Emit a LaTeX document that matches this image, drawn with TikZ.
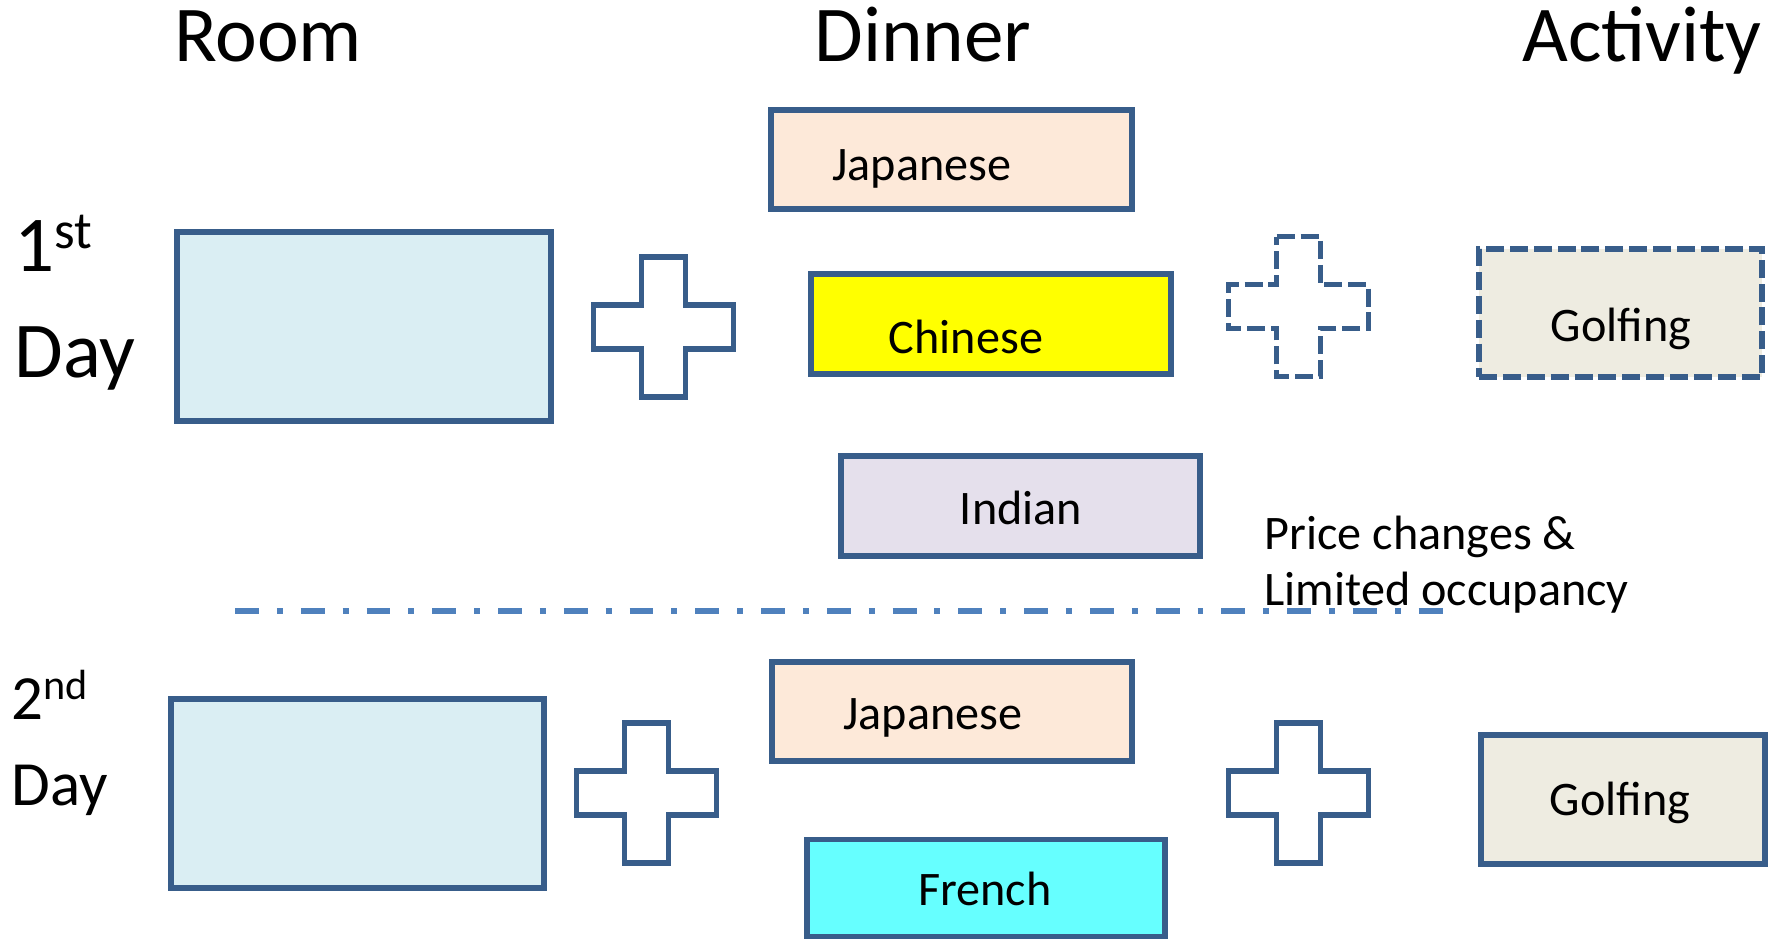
\documentclass[tikz,border=0pt]{standalone}
\usepackage{fontspec}
\setmainfont{Carlito}
\definecolor{edgeblue}{HTML}{385D8A}
\definecolor{sepblue}{HTML}{4F81BD}
\definecolor{roomfill}{HTML}{DAEEF3}
\definecolor{japfill}{HTML}{FDE9D9}
\definecolor{chinfill}{HTML}{FFFF00}
\definecolor{indfill}{HTML}{E5E0EC}
\definecolor{frefill}{HTML}{66FFFF}
\definecolor{golffill}{HTML}{EEECE1}
\tikzset{
  plussign/.pic={
    \draw[edgeblue,line width=1.55pt,pic actions]
      (-21.8,-69.8) -- (21.8,-69.8) -- (21.8,-21.8) -- (69.8,-21.8) -- (69.8,21.8)
      -- (21.8,21.8) -- (21.8,69.8) -- (-21.8,69.8) -- (-21.8,21.8) -- (-69.8,21.8)
      -- (-69.8,-21.8) -- (-21.8,-21.8) -- cycle;
  }
}
\begin{document}
\begin{tikzpicture}[x=0.01cm,y=-0.01cm,
    boxline/.style={draw=edgeblue,line width=1.55pt,rectangle,inner sep=0pt},
    roombox/.style={boxline,fill=roomfill,minimum width=3.74cm,minimum height=1.89cm},
    dishbox/.style={boxline,minimum width=3.60cm,minimum height=1.00cm},
    golfbox/.style={boxline,fill=golffill,minimum width=2.84cm,minimum height=1.29cm},
    dashline/.style={dash pattern=on 5.1pt off 1.7pt},
    head/.style={font=\fontsize{22.5}{27}\selectfont,inner sep=0pt,anchor=base},
    lbl/.style={font=\fontsize{13.7}{16.2}\selectfont,inner sep=0pt,anchor=base}]

    \useasboundingbox (0,0) rectangle (1781,940);

    % Column heads
    \node[head] (roomhead) at (268,62) {Room};
    \node[head] (dinnerhead) at (923,62) {Dinner};
    \node[head] (acthead) at (1642,62) {Activity};

    % Day labels (base anchor sits on the last line)
    \node[head,anchor=base west,align=left,font=\fontsize{22.5}{30.2}\selectfont]
        (day1) at (14,378) {1\raisebox{.3em}{\fontsize{15}{15}\selectfont st}\\Day};
    \node[head,anchor=base west,align=left,font=\fontsize{17.9}{24.2}\selectfont]
        (day2) at (11,805) {2\raisebox{.32em}{\fontsize{12}{12}\selectfont nd}\\Day};

    % First day
    \node[roombox] (room1) at (364,326.5) {};
    \pic at (663.5,327) {plussign};
    \node[dishbox,fill=japfill,minimum width=3.61cm,minimum height=0.99cm] (jap1) at (951.5,159.5) {};
    \node[dishbox,fill=chinfill] (chin1) at (991,324) {};
    \node[dishbox,fill=indfill,minimum width=3.59cm] (ind1) at (1020.5,506) {};
    \pic[dashline] at (1298.5,306.5) {plussign};
    \node[golfbox,dashline,minimum width=2.83cm,minimum height=1.28cm] (golf1) at (1620.5,313) {};

    \node[lbl] (jap1txt) at (922,181) {Japanese};
    \node[lbl] (chin1txt) at (966,354) {Chinese};
    \node[lbl] (ind1txt) at (1021,525) {Indian};
    \node[lbl] (golf1txt) at (1621,342) {Golfing};
    \node[lbl,anchor=base west,align=left] (note) at (1264,606) {Price changes \&\\Limited occupancy};

    % Separator
    \coordinate (sepL) at (235,611);
    \coordinate (sepR) at (1445,611);
    \draw[sepblue,line width=1.65pt,dash pattern=on 6.8pt off 5.1pt on 1.7pt off 5.1pt] (sepL) -- (sepR);

    % Second day
    \node[roombox,minimum width=3.73cm] (room2) at (357.5,793.5) {};
    \pic at (646.5,793) {plussign};
    \node[dishbox,fill=japfill,minimum height=0.99cm] (jap2) at (952,711.5) {};
    \node[dishbox,fill=frefill,minimum width=3.58cm,minimum height=0.97cm] (fre2) at (986,888) {};
    \pic at (1298.5,793) {plussign};
    \node[golfbox] (golf2) at (1623,799.5) {};

    \node[lbl] (jap2txt) at (933,730) {Japanese};
    \node[lbl] (fre2txt) at (985,906) {French};
    \node[lbl] (golf2txt) at (1620,816) {Golfing};

\end{tikzpicture}
\end{document}
